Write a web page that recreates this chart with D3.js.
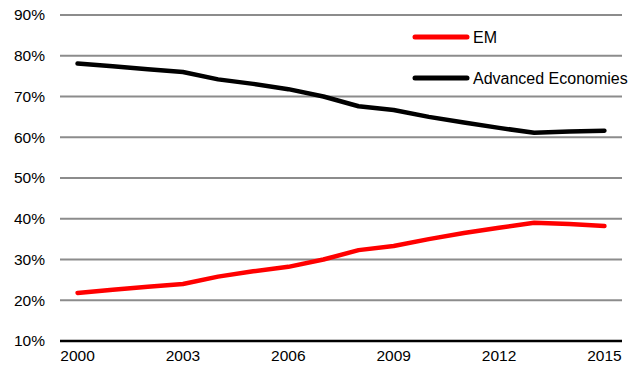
<!DOCTYPE html>
<html>
<head>
<meta charset="utf-8">
<script src="https://cdn.jsdelivr.net/npm/d3@7"></script>
<style>
  html, body { margin: 0; padding: 0; background: #fff; }
  svg { display: block; font-family: "Liberation Sans", Arial, sans-serif; }
</style>
</head>
<body>
<svg id="chart" width="641" height="372"></svg>
<script>
// Share of total, by group, 2000–2015
const years = [2000, 2001, 2002, 2003, 2004, 2005, 2006, 2007, 2008, 2009, 2010, 2011, 2012, 2013, 2014, 2015];
const emValues = [21.8, 22.6, 23.3, 24.0, 25.8, 27.1, 28.2, 30.0, 32.3, 33.3, 35.0, 36.5, 37.8, 39.0, 38.7, 38.2];
const advancedValues = [78.1, 77.4, 76.7, 76.0, 74.2, 73.1, 71.8, 70.0, 67.6, 66.7, 65.0, 63.6, 62.3, 61.1, 61.4, 61.6];
const yTicks = [10, 20, 30, 40, 50, 60, 70, 80, 90];
const xTickYears = [2000, 2003, 2006, 2009, 2012, 2015];
const seriesNames = ["EM", "Advanced Economies"];
const seriesColors = ["#ff0000", "#000000"];

const svg = d3.select("#chart");
const margin = { left: 60, right: 19, top: 15, bottom: 31 };
const W = 641, H = 372;

const x = d3.scaleBand()
  .domain(years)
  .range([margin.left, W - margin.right]);
const xc = d => x(d) + x.bandwidth() / 2;

const y = d3.scaleLinear()
  .domain([10, 90])
  .range([H - margin.bottom, margin.top]);

// horizontal gridlines
svg.append("g")
  .selectAll("line")
  .data(yTicks.filter(t => t !== 10))
  .join("line")
  .attr("x1", margin.left)
  .attr("x2", W - margin.right)
  .attr("y1", d => y(d))
  .attr("y2", d => y(d))
  .attr("stroke", "#8c8c8c")
  .attr("stroke-width", 2);

// y axis labels
const yAxis = d3.axisLeft(y)
  .tickValues(yTicks)
  .tickFormat(d => d + "%")
  .tickSize(0)
  .tickPadding(15);
const gy = svg.append("g")
  .attr("transform", `translate(${margin.left},0)`)
  .call(yAxis);
gy.select(".domain").remove();
gy.selectAll("text")
  .attr("font-size", 15.5)
  .attr("fill", "#000")
  .attr("font-family", "Liberation Sans, Arial, sans-serif");

// x axis: baseline at 10%
const xAxis = d3.axisBottom(x)
  .tickValues(xTickYears)
  .tickFormat(d => String(d))
  .tickSize(0)
  .tickPadding(9);
const gx = svg.append("g")
  .attr("transform", `translate(0,${y(10)})`)
  .call(xAxis);
gx.select(".domain")
  .attr("d", `M${margin.left},0H${W - margin.right}`)
  .attr("stroke", "#000")
  .attr("stroke-width", 2.5);
gx.selectAll("text")
  .attr("font-size", 15.5)
  .attr("fill", "#000")
  .attr("font-family", "Liberation Sans, Arial, sans-serif");

// series lines
const line = d3.line()
  .x((d, i) => xc(years[i]))
  .y(d => y(d));

[emValues, advancedValues].forEach((vals, i) => {
  svg.append("path")
    .datum(vals)
    .attr("fill", "none")
    .attr("stroke", seriesColors[i])
    .attr("stroke-width", 4.5)
    .attr("stroke-linecap", "round")
    .attr("stroke-linejoin", "round")
    .attr("d", line);
});

// legend
const legend = svg.append("g");
const legendY = [37, 78];
seriesNames.forEach((name, i) => {
  legend.append("line")
    .attr("x1", 415).attr("x2", 467)
    .attr("y1", legendY[i]).attr("y2", legendY[i])
    .attr("stroke", seriesColors[i])
    .attr("stroke-width", 5)
    .attr("stroke-linecap", "round");
  legend.append("text")
    .attr("x", 473)
    .attr("y", legendY[i] + 5.5)
    .attr("font-size", 16)
    .attr("fill", "#000")
    .text(name);
});
</script>
</body>
</html>
